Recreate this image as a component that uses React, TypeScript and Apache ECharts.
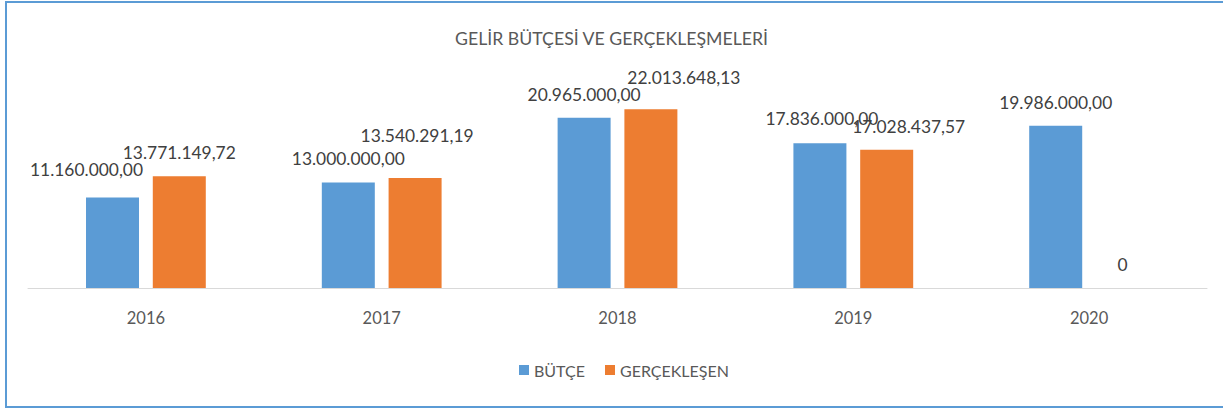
import React, { useEffect, useRef } from "react";
import * as echarts from "echarts";

const categories = ["2016", "2017", "2018", "2019", "2020"];
const butce = [11160000, 13000000, 20965000, 17836000, 19986000];
const gerceklesen = [13771149.72, 13540291.19, 22013648.13, 17028437.57, 0];
const seriesNames = ["BÜTÇE", "GERÇEKLEŞEN"];
const titleText = "GELİR BÜTÇESİ VE GERÇEKLEŞMELERİ";

// label nudges (dx, dy) to mimic manually placed data labels
const butceLabelShift = [[-26, -4], [0, 0], [0, 0], [2, -1], [0, 0]];
const gercekLabelShift = [[0, 0], [2, -19], [33, -8], [22, 0], [0, 0]];

const FONT = "Lato";

function fmt(v: number): string {
  if (v === 0) return "0";
  const fixed = v.toFixed(2);
  const [intPart, dec] = fixed.split(".");
  const withDots = intPart.replace(/\B(?=(\d{3})+(?!\d))/g, ".");
  return withDots + "," + dec;
}

export default function App() {
  const ref = useRef<HTMLDivElement>(null);
  useEffect(() => {
    if (!ref.current) return;
    const chart = echarts.init(ref.current, null, { renderer: "svg" });
    const labelBase = {
      show: true,
      position: "top",
      distance: 15,
      color: "#404040",
      fontFamily: FONT,
      fontSize: 17.4,
      formatter: (p: any) => fmt(p.value),
    };
    chart.setOption({
      animation: false,
      backgroundColor: "#ffffff",
      textStyle: { fontFamily: FONT },
      title: {
        text: titleText,
        left: "center",
        top: 29,
        padding: [0, 0, 0, 12],
        textStyle: { color: "#595959", fontFamily: FONT, fontSize: 17.7, fontWeight: "normal" },
      },
      legend: {
        data: seriesNames,
        left: 519,
        top: 362,
        padding: 0,
        itemWidth: 10,
        itemHeight: 10,
        itemGap: 20,
        icon: "rect",
        textStyle: { color: "#595959", fontFamily: FONT, fontSize: 16 },
      },
      grid: { left: 28, right: 16, top: 85, bottom: 121, containLabel: false },
      xAxis: {
        type: "category",
        data: categories,
        axisLine: { show: true, lineStyle: { color: "#d9d9d9", width: 1 } },
        axisTick: { show: false },
        axisLabel: { color: "#595959", fontFamily: FONT, fontSize: 16.5, margin: 21 },
      },
      yAxis: {
        type: "value",
        min: 0,
        max: 25000000,
        show: false,
        splitLine: { show: false },
      },
      graphic: [
        {
          type: "rect",
          shape: { x: 6, y: 2, width: 1240, height: 405 },
          style: { fill: "none", stroke: "#5b9bd5", lineWidth: 2 },
          silent: true,
        },
      ],
      series: [
        {
          name: seriesNames[0],
          type: "bar",
          barWidth: 53,
          barGap: "26%",
          itemStyle: { color: "#5b9bd5" },
          data: butce.map((v, i) => ({
            value: v,
            label: { ...labelBase, offset: butceLabelShift[i] },
          })),
          label: labelBase,
        },
        {
          name: seriesNames[1],
          type: "bar",
          barWidth: 53,
          barGap: "26%",
          itemStyle: { color: "#ed7d31" },
          data: gerceklesen.map((v, i) => ({
            value: v,
            label: { ...labelBase, offset: gercekLabelShift[i] },
          })),
          label: labelBase,
        },
      ],
    });
    return () => chart.dispose();
  }, []);
  return (
    <div
      ref={ref}
      style={{ position: "absolute", left: 0, top: 0, width: 1223, height: 409 }}
    />
  );
}
